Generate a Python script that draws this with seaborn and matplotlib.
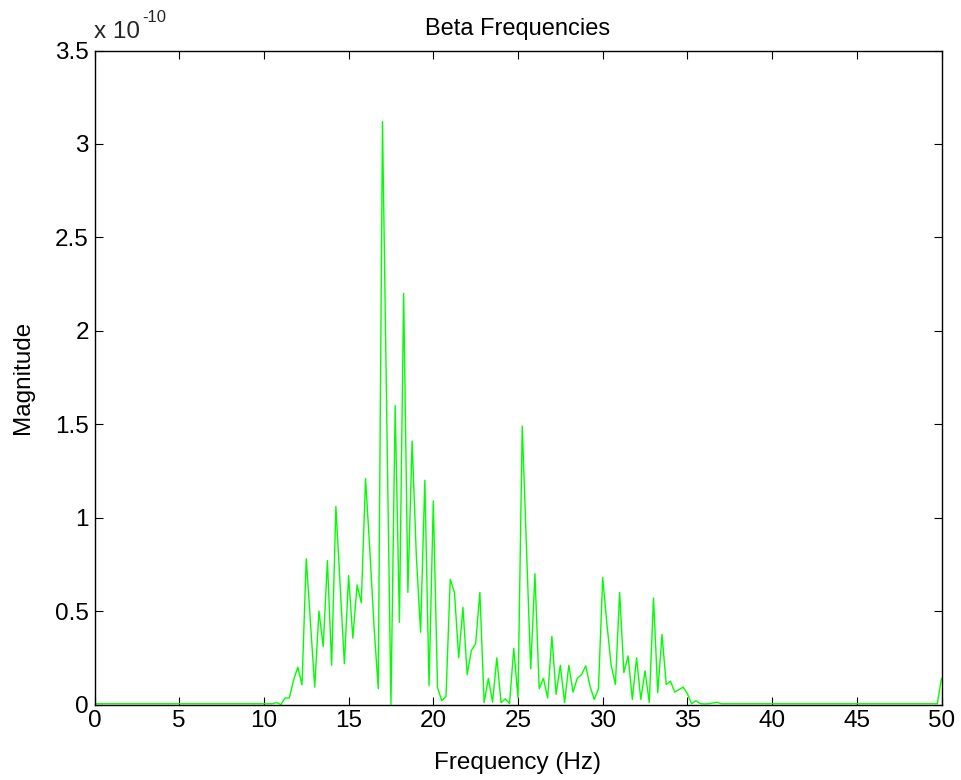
import numpy as np
import pandas as pd
import matplotlib
matplotlib.use("Agg")
import matplotlib.pyplot as plt
import seaborn as sns

# Spectrum sampled every 0.25 Hz from 0 to 50 Hz (201 bins)
freq_step_hz = 0.25
n_bins = 201

# Magnitude per bin, in units of 1e-10
magnitude_e10 = [
    # 0 - 10.5 Hz
    0.004, 0.004, 0.004, 0.004, 0.004, 0.004, 0.004, 0.004, 0.004, 0.004,
    0.004, 0.004, 0.004, 0.004, 0.004, 0.004, 0.004, 0.004, 0.004, 0.004,
    0.004, 0.004, 0.004, 0.004, 0.004, 0.004, 0.004, 0.004, 0.004, 0.004,
    0.004, 0.004, 0.004, 0.004, 0.004, 0.004, 0.004, 0.004, 0.004, 0.004,
    0.004, 0.004, 0.004,
    # 10.75 - 20.5 Hz
    0.010, 0.000, 0.035, 0.035, 0.130, 0.200, 0.105, 0.780, 0.440, 0.093,
    0.500, 0.310, 0.770, 0.210, 1.060, 0.640, 0.218, 0.690, 0.355, 0.640,
    0.545, 1.210, 0.830, 0.420, 0.084, 3.120, 1.550, 0.000, 1.600, 0.440,
    2.200, 0.600, 1.410, 0.790, 0.387, 1.200, 0.100, 1.090, 0.090, 0.020,
    # 20.75 - 30.5 Hz
    0.043, 0.670, 0.600, 0.250, 0.520, 0.160, 0.290, 0.325, 0.600, 0.010,
    0.140, 0.012, 0.250, 0.010, 0.030, 0.005, 0.300, 0.035, 1.490, 0.840,
    0.190, 0.700, 0.084, 0.140, 0.035, 0.365, 0.054, 0.210, 0.010, 0.210,
    0.066, 0.140, 0.160, 0.207, 0.098, 0.027, 0.084, 0.680, 0.430, 0.210,
    # 30.75 - 40.5 Hz
    0.107, 0.600, 0.170, 0.260, 0.027, 0.250, 0.027, 0.180, 0.010, 0.570,
    0.063, 0.375, 0.107, 0.125, 0.066, 0.080, 0.093, 0.057, 0.004, 0.020,
    0.005, 0.003, 0.004, 0.008, 0.012, 0.004, 0.004, 0.004, 0.004, 0.004,
    0.004, 0.004, 0.004, 0.004, 0.004, 0.004, 0.004, 0.004, 0.004, 0.004,
    # 40.75 - 50 Hz
    0.004, 0.004, 0.004, 0.004, 0.004, 0.004, 0.004, 0.004, 0.004, 0.004,
    0.004, 0.004, 0.004, 0.004, 0.004, 0.004, 0.004, 0.004, 0.004, 0.004,
    0.004, 0.004, 0.004, 0.004, 0.004, 0.004, 0.004, 0.004, 0.004, 0.004,
    0.004, 0.004, 0.004, 0.004, 0.004, 0.004, 0.004, 0.140,
]

x_ticks = [0, 5, 10, 15, 20, 25, 30, 35, 40, 45, 50]
y_ticks = [0, 0.5, 1, 1.5, 2, 2.5, 3, 3.5]
y_tick_labels = ["0", "0.5", "1", "1.5", "2", "2.5", "3", "3.5"]

freq = np.arange(n_bins) * freq_step_hz
df = pd.DataFrame({"Frequency (Hz)": freq, "Magnitude": magnitude_e10})

sns.set_theme(style="ticks")
plt.rcParams["font.family"] = ["Liberation Sans", "DejaVu Sans"]

W, H = 961, 780
fig = plt.figure(figsize=(W / 100, H / 100), dpi=100)
fig.patch.set_facecolor("white")
left, right, top, bottom = 94.5, 941.5, 50.5, 704.5
ax = fig.add_axes([left / W, 1 - bottom / H, (right - left) / W, (bottom - top) / H])

sns.lineplot(data=df, x="Frequency (Hz)", y="Magnitude", color="#00ff00",
             linewidth=1.0, ax=ax, legend=False)

ax.set_xlim(0, 50)
ax.set_ylim(0, 3.5)
ax.set_xticks(x_ticks)
ax.set_xticklabels([str(t) for t in x_ticks])
ax.set_yticks(y_ticks)
ax.set_yticklabels(y_tick_labels)

for side in ["top", "right", "bottom", "left"]:
    ax.spines[side].set_visible(True)
    ax.spines[side].set_color("black")
    ax.spines[side].set_linewidth(1.0)

ax.tick_params(direction="in", top=True, right=True, length=6, width=0.8,
               labelsize=17.5, pad=4, colors="black")

ax.set_xlabel("Frequency (Hz)", fontsize=17.5, labelpad=14, color="black")
ax.set_ylabel("Magnitude", fontsize=17.5, labelpad=15, color="black")
ax.set_title("Beta Frequencies", fontsize=17, pad=11, color="black")

# Exponent annotation above the y axis
fig.text(94 / W, 1 - 38 / H, "x 10", fontsize=17.5, ha="left", va="baseline")
fig.text(142 / W, 1 - 22 / H, "-10", fontsize=12, ha="left", va="baseline")

ax.grid(False)
fig.savefig("out.png", dpi=100, facecolor="white")
